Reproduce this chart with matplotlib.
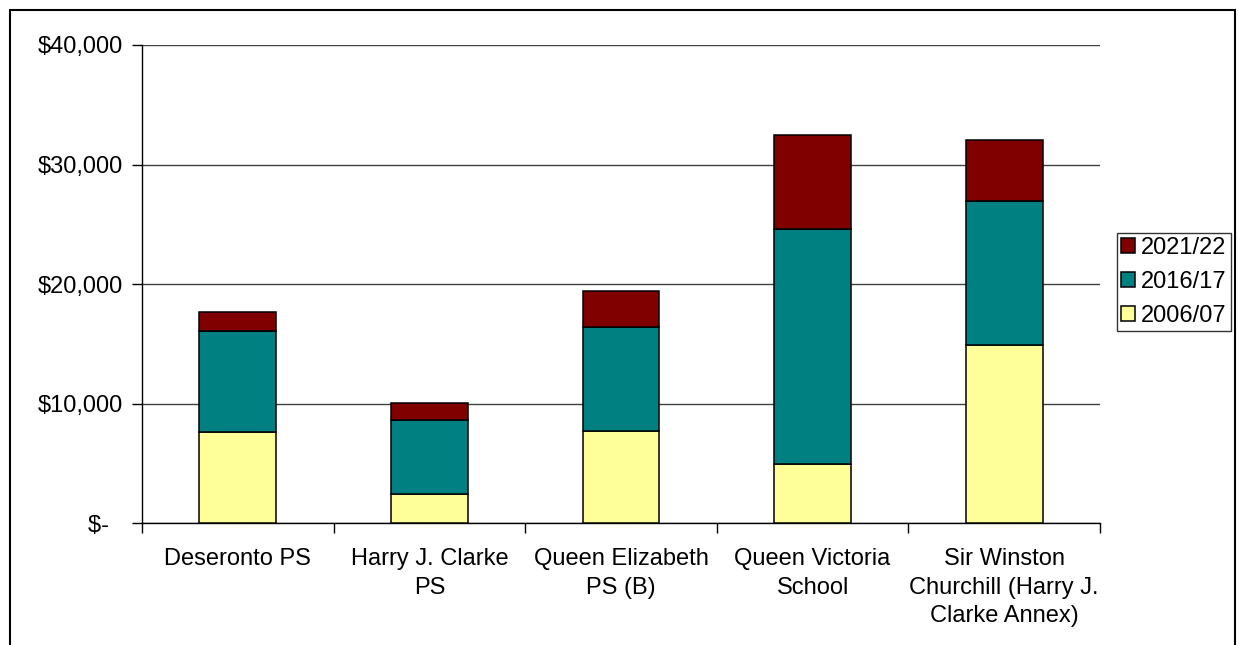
import matplotlib
matplotlib.use("Agg")
import matplotlib.pyplot as plt
from matplotlib.patches import Rectangle
from matplotlib.ticker import FuncFormatter
import numpy as np

plt.rcParams['font.family'] = ['Liberation Sans', 'DejaVu Sans']

schools = ["Deseronto PS", "Harry J. Clarke\nPS", "Queen Elizabeth\nPS (B)",
           "Queen Victoria\nSchool", "Sir Winston\nChurchill (Harry J.\nClarke Annex)"]
series = ["2006/07", "2016/17", "2021/22"]
v2006 = [7600, 2460, 7720, 4940, 14900]
v2016 = [8520, 6170, 8680, 19690, 12050]
v2021 = [1590, 1470, 3060, 7840, 5070]
colors = ["#FFFF99", "#008080", "#800000"]
yticks = [0, 10000, 20000, 30000, 40000]

fig = plt.figure(figsize=(12.38, 6.45), dpi=100)
ax = fig.add_axes([142/1238, 1-523.3/645, (1100-142)/1238, (523.3-45)/645])

x = np.arange(len(schools))
bottom = np.zeros(len(schools))
handles = []
for name, vals, c in zip(series, [v2006, v2016, v2021], colors):
    b = ax.bar(x, vals, width=0.4, bottom=bottom, color=c, edgecolor="black",
               linewidth=1.1, label=name, zorder=3)
    bottom += np.array(vals)
    handles.append(b)

ax.set_xlim(-0.5, len(schools) - 0.5)
ax.set_ylim(0, 40000)
ax.set_yticks(yticks)
ax.yaxis.set_major_formatter(FuncFormatter(lambda v, p: "$-  " if v == 0 else "${:,.0f}".format(v)))
ax.yaxis.grid(True, color="#404040", linewidth=1.0, zorder=0)

ax.set_xticks(x)
ax.set_xticklabels(schools, fontsize=17, linespacing=1.38)
ax.set_xticks(np.arange(len(schools) + 1) - 0.5, minor=True)
ax.tick_params(axis="x", which="major", length=0, pad=18)
ax.tick_params(axis="x", which="minor", length=7, width=1, direction="out")
ax.tick_params(axis="y", length=7, width=1, direction="out", labelsize=17, pad=7)

for s in ["top", "right"]:
    ax.spines[s].set_visible(False)
ax.spines["left"].set_linewidth(1.0)
ax.spines["bottom"].set_linewidth(1.0)

leg = ax.legend(handles[::-1], series[::-1], loc="upper left",
                bbox_to_anchor=(1117/1238, 1-233/645), bbox_transform=fig.transFigure,
                fontsize=17, frameon=True, fancybox=False, edgecolor="black",
                handlelength=0.6, handleheight=0.6, handletextpad=0.25,
                labelspacing=0.5, borderpad=0.18, borderaxespad=0)
leg.get_frame().set_linewidth(1.0)

# outer chart border
fig.patches.append(Rectangle((10/1238, -0.02), 1225/1238, 1-10/645+0.02,
                             transform=fig.transFigure, fill=False,
                             edgecolor="black", linewidth=1.5))

fig.savefig("out.png", dpi=100)
